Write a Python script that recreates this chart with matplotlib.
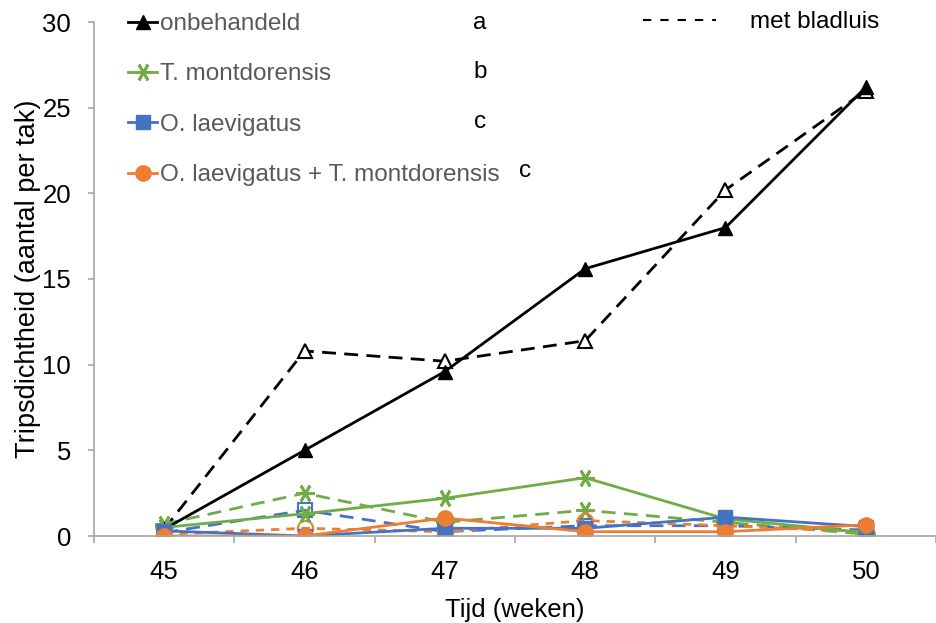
import matplotlib.pyplot as plt
from matplotlib.lines import Line2D

plt.rcParams['font.family'] = ['Liberation Sans', 'DejaVu Sans']

# data
weken = ['45', '46', '47', '48', '49', '50']
onbehandeld = [0.4, 5.0, 9.6, 15.6, 18.0, 26.2]
onbehandeld_bl = [0.4, 10.8, 10.2, 11.4, 20.2, 26.0]
t_mont = [0.5, 1.3, 2.2, 3.4, 1.0, 0.2]
t_mont_bl = [0.7, 2.5, 0.8, 1.5, 0.8, 0.1]
o_laev = [0.3, 0.0, 0.45, 0.45, 1.1, 0.55]
o_laev_bl = [0.2, 1.5, 0.25, 0.6, 0.6, 0.35]
combi = [0.0, 0.0, 1.05, 0.25, 0.25, 0.65]
combi_bl = [0.1, 0.45, 0.25, 0.9, 0.6, 0.25]

namen = ['onbehandeld', 'T. montdorensis', 'O. laevigatus',
         'O. laevigatus + T. montdorensis']
letters = ['a', 'b', 'c', 'c']

zwart = 'black'
groen = '#70AD47'
blauw = '#4472C4'
oranje = '#ED7D31'
ster = (6, 2, 90)
fs = 18.5
fs_leg = 17.5

fig = plt.figure(figsize=(9.36, 6.23), dpi=100)
ax = fig.add_axes([94 / 936, 1 - 536 / 623, 1 - 94 / 936, (536 - 22) / 623])
x = range(len(weken))
lw = 2

# met bladluis: gestreept, open markers
ax.plot(x, onbehandeld_bl, color=zwart, lw=lw, ls=(0, (5, 3)), marker='^',
        ms=10, mfc='white', mec=zwart, mew=1.5)
ax.plot(x, t_mont_bl, color=groen, lw=lw, ls=(0, (5, 3)), marker=ster,
        ms=13, mec=groen, mew=2)
ax.plot(x, o_laev_bl, color=blauw, lw=lw, ls=(0, (5, 3)), marker='s',
        ms=10, mfc='none', mec=blauw, mew=1.5)
ax.plot(x, combi_bl, color=oranje, lw=lw, ls=(0, (3, 2.5)), marker='o',
        ms=11, mfc='none', mec=oranje, mew=1.5)

# zonder bladluis: doorgetrokken
h1, = ax.plot(x, onbehandeld, color=zwart, lw=lw, marker='^', ms=10)
h2, = ax.plot(x, t_mont, color=groen, lw=lw, marker=ster, ms=13, mew=2)
h3, = ax.plot(x, o_laev, color=blauw, lw=lw, marker='s', ms=10)
h4, = ax.plot(x, combi, color=oranje, lw=lw, marker='o', ms=11)

ax.set_xlim(-0.5, len(weken) - 0.5)
ax.set_ylim(0, 30)
ax.set_yticks(range(0, 31, 5))
ax.set_xticks(list(x))
ax.set_xticklabels(weken)
ax.set_xticks([i - 0.5 for i in range(len(weken) + 1)], minor=True)

for s in ['top', 'right']:
    ax.spines[s].set_visible(False)
for s in ['left', 'bottom']:
    ax.spines[s].set_color('#A6A6A6')
    ax.spines[s].set_linewidth(1.2)

ax.tick_params(axis='y', length=4.5, width=1.2, color='#A6A6A6', labelsize=fs, pad=12)
ax.tick_params(axis='x', which='major', length=0, labelsize=fs, pad=17)
ax.tick_params(axis='x', which='minor', length=5, width=1.2, color='#A6A6A6')

ax.set_xlabel('Tijd (weken)', fontsize=fs, labelpad=10)
ax.set_ylabel('Tripsdichtheid (aantal per tak)', fontsize=19.5, labelpad=1)

leg = fig.legend([h1, h2, h3, h4], namen, loc='upper left',
                 bbox_to_anchor=(128 / 936, 1 - 13 / 623), frameon=False,
                 fontsize=fs_leg, handlelength=1.2, handletextpad=0.1,
                 labelspacing=1.17, borderpad=0, borderaxespad=0,
                 labelcolor='#595959')

for i, t in enumerate(letters):
    xpos = 480 if i < 3 else 525
    fig.text(xpos / 936, 1 - (23 + i * 49.3) / 623, t, fontsize=fs_leg,
             ha='center', va='center')

leg2 = fig.legend([Line2D([], [], color=zwart, lw=1.5, ls=(0, (4, 4.3)))],
                  ['met bladluis'], loc='upper left',
                  bbox_to_anchor=(643 / 936, 1 - 11 / 623), frameon=False,
                  fontsize=fs_leg, handlelength=3.0, handletextpad=1.4,
                  borderpad=0, borderaxespad=0)

fig.savefig('out.png', dpi=100)
